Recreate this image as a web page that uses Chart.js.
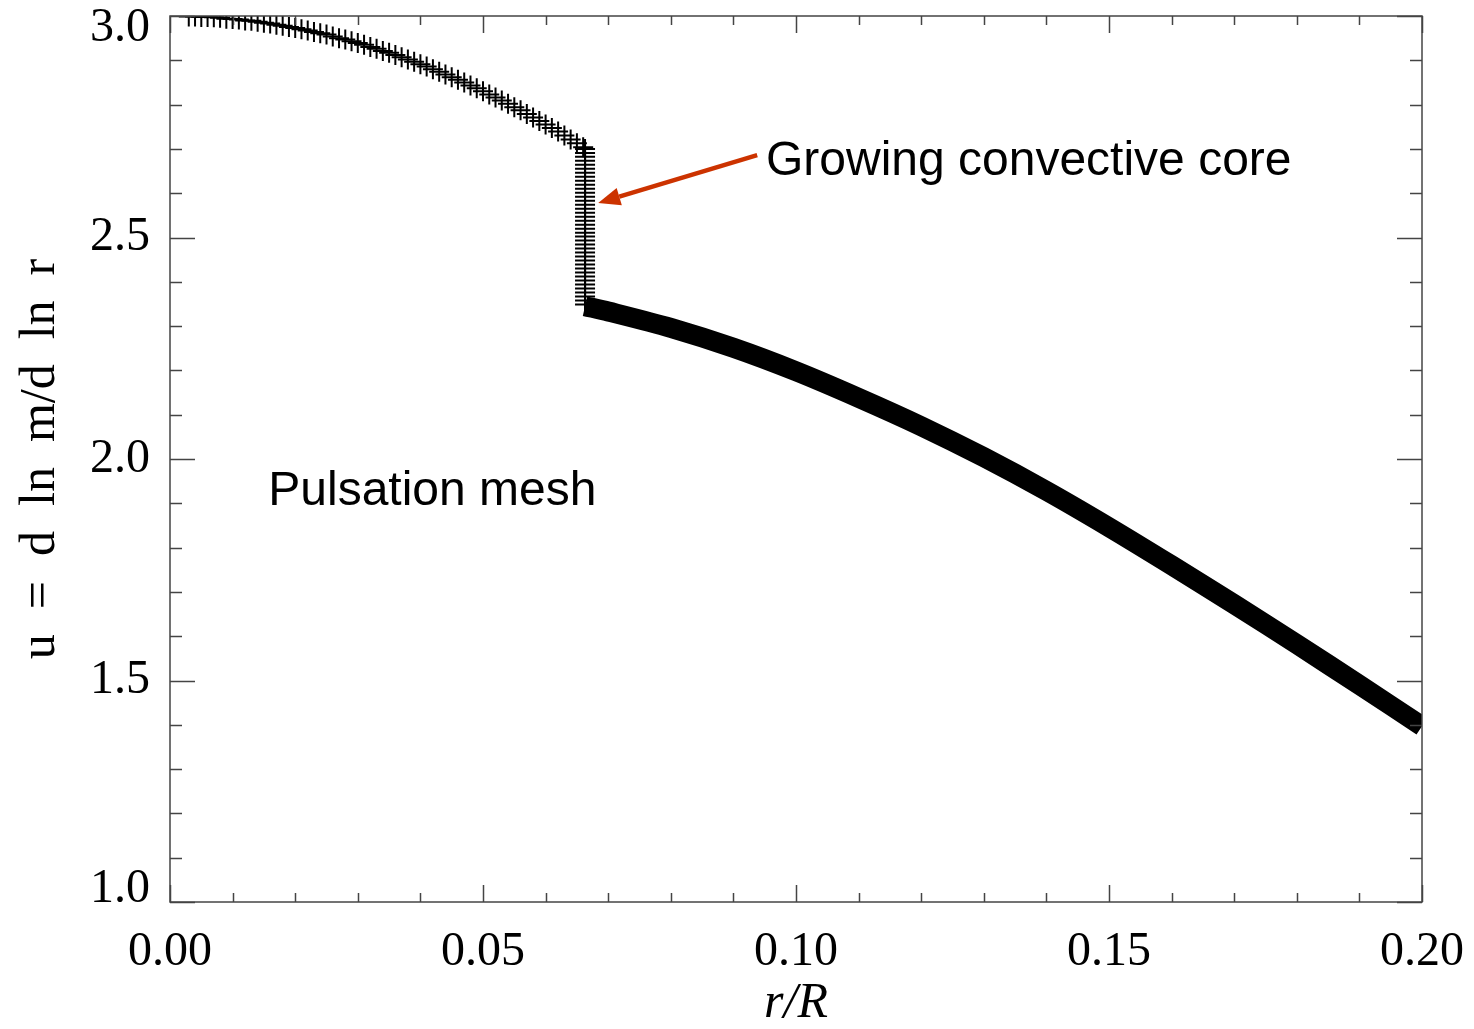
<!DOCTYPE html>
<html lang="en">
<head>
<meta charset="UTF-8" />
<title>Pulsation mesh</title>
<script src="https://cdn.jsdelivr.net/npm/chart.js"></script>
<style>
  * { margin: 0; padding: 0; box-sizing: border-box; }
  body { background: #fff; }
  #wrap { width: 1474px; height: 1029px; position: relative; }
</style>
</head>
<body>
<div id="wrap"><canvas id="meshChart"></canvas></div>
<script>
// mesh points inside the convective core (sparse)
const rCore = [0.003, 0.004, 0.005, 0.006, 0.007, 0.008, 0.009, 0.010, 0.011, 0.012,
  0.013, 0.014, 0.015, 0.016, 0.017, 0.018, 0.019, 0.020, 0.021, 0.022,
  0.023, 0.024, 0.025, 0.026, 0.027, 0.028, 0.029, 0.030, 0.031, 0.032,
  0.033, 0.034, 0.035, 0.036, 0.037, 0.038, 0.039, 0.040, 0.041, 0.042,
  0.043, 0.044, 0.045, 0.046, 0.047, 0.048, 0.049, 0.050, 0.051, 0.052,
  0.053, 0.054, 0.055, 0.056, 0.057, 0.058, 0.059, 0.060, 0.061, 0.062,
  0.063, 0.064, 0.065, 0.066];
const uCore = [2.999, 2.999, 2.998, 2.998, 2.997, 2.996, 2.994, 2.993, 2.992, 2.990,
  2.989, 2.987, 2.985, 2.983, 2.980, 2.978, 2.975, 2.973, 2.970, 2.967,
  2.964, 2.961, 2.958, 2.954, 2.950, 2.947, 2.943, 2.939, 2.935, 2.930,
  2.926, 2.921, 2.917, 2.912, 2.907, 2.902, 2.897, 2.891, 2.886, 2.880,
  2.874, 2.868, 2.862, 2.856, 2.850, 2.843, 2.837, 2.830, 2.823, 2.816,
  2.809, 2.802, 2.794, 2.787, 2.779, 2.771, 2.763, 2.755, 2.747, 2.739,
  2.730, 2.721, 2.713, 2.704];

// mesh points piled up at the core boundary
const rEdge = 0.0663;
const uEdge = [2.700, 2.691, 2.682, 2.673, 2.664, 2.655, 2.646, 2.637, 2.628, 2.619,
  2.610, 2.601, 2.592, 2.583, 2.574, 2.565, 2.556, 2.547, 2.538, 2.529,
  2.520, 2.511, 2.502, 2.493, 2.484, 2.475, 2.466, 2.457, 2.448, 2.439,
  2.430, 2.421, 2.412, 2.403, 2.394, 2.385, 2.376, 2.367, 2.358, 2.349];

// dense mesh outside the core
const rEnv = [0.0663, 0.070, 0.080, 0.090, 0.100, 0.110, 0.120, 0.130, 0.140, 0.150,
  0.160, 0.170, 0.180, 0.190, 0.200];
const uEnv = [2.345, 2.333, 2.296, 2.251, 2.198, 2.138, 2.074, 2.004, 1.928, 1.846,
  1.760, 1.672, 1.582, 1.490, 1.397];

const xTicks = [0.00, 0.05, 0.10, 0.15, 0.20];
const yTicks = [1.0, 1.5, 2.0, 2.5, 3.0];

const serif = '"Liberation Serif", "DejaVu Serif", serif';
const sans = '"Liberation Sans", Arial, sans-serif';

// box frame with inward ticks on all four sides
const framePlugin = {
    id: 'frame',
    afterLayout(chart) {
        // end labels of the y axis sit inside the frame, as in the original plot
        const items = chart.scales.y.getLabelItems();
        items[0].options.translation[1] -= 13;
        items[items.length - 1].options.translation[1] += 12;
    },
    afterDatasetsDraw(chart) {
        const { ctx, chartArea: a, scales: { x, y } } = chart;
        ctx.save();
        ctx.strokeStyle = '#444';
        ctx.lineWidth = 1.5;
        ctx.strokeRect(a.left, a.top, a.right - a.left, a.bottom - a.top);
        ctx.beginPath();
        for (let i = 0; i <= 20; i++) {
            const px = Math.round(x.getPixelForValue(i * 0.01)) + 0.5;
            const len = i % 5 === 0 ? 17 : 9;
            ctx.moveTo(px, a.bottom); ctx.lineTo(px, a.bottom - len);
            ctx.moveTo(px, a.top); ctx.lineTo(px, a.top + len);
        }
        for (let i = 0; i <= 20; i++) {
            const py = Math.round(y.getPixelForValue(1 + i * 0.1)) + 0.5;
            const len = i % 5 === 0 ? 25 : 12;
            ctx.moveTo(a.left, py); ctx.lineTo(a.left + len, py);
            ctx.moveTo(a.right, py); ctx.lineTo(a.right - len, py);
        }
        ctx.stroke();
        ctx.restore();
    }
};

// labels and the red arrow
const notePlugin = {
    id: 'notes',
    afterDraw(chart) {
        const { ctx, scales: { x, y } } = chart;
        ctx.save();
        ctx.fillStyle = '#000';
        ctx.font = '48px ' + sans;
        ctx.textBaseline = 'alphabetic';
        ctx.fillText('Pulsation mesh', x.getPixelForValue(0.0157), y.getPixelForValue(1.896));
        ctx.fillText('Growing convective core', x.getPixelForValue(0.0952), y.getPixelForValue(2.641));

        const x0 = x.getPixelForValue(0.0938), y0 = y.getPixelForValue(2.686);
        const x1 = x.getPixelForValue(0.0684), y1 = y.getPixelForValue(2.578);
        const ang = Math.atan2(y1 - y0, x1 - x0);
        const head = 22, half = 9;
        const bx = x1 - head * Math.cos(ang), by = y1 - head * Math.sin(ang);
        ctx.strokeStyle = '#cc3300';
        ctx.fillStyle = '#cc3300';
        ctx.lineWidth = 4.5;
        ctx.beginPath();
        ctx.moveTo(x0, y0);
        ctx.lineTo(bx, by);
        ctx.stroke();
        ctx.beginPath();
        ctx.moveTo(x1, y1);
        ctx.lineTo(bx + half * Math.sin(ang), by - half * Math.cos(ang));
        ctx.lineTo(bx - half * Math.sin(ang), by + half * Math.cos(ang));
        ctx.closePath();
        ctx.fill();
        ctx.restore();
    }
};

const coreData = rCore.map((r, i) => ({ x: r, y: uCore[i] }));
const edgeData = uEdge.map(u => ({ x: rEdge, y: u }));
const envData = rEnv.map((r, i) => ({ x: r, y: uEnv[i] }));

const ctx = document.getElementById('meshChart').getContext('2d');
new Chart(ctx, {
    type: 'scatter',
    data: {
        datasets: [
            {
                data: coreData,
                pointStyle: 'cross',
                pointRadius: 10,
                borderColor: '#000',
                borderWidth: 2,
                showLine: false
            },
            {
                data: edgeData,
                pointStyle: 'cross',
                pointRadius: 10,
                borderColor: '#000',
                borderWidth: 2,
                showLine: false
            },
            {
                data: envData,
                showLine: true,
                pointRadius: 0,
                borderColor: '#000',
                borderWidth: 20,
                borderCapStyle: 'butt',
                tension: 0.3
            }
        ]
    },
    options: {
        responsive: true,
        maintainAspectRatio: false,
        animation: false,
        layout: { padding: { top: 16, right: 52, left: 0, bottom: 0 } },
        plugins: {
            legend: { display: false },
            tooltip: { enabled: false }
        },
        scales: {
            x: {
                type: 'linear',
                min: 0,
                max: 0.2,
                afterFit: (s) => { s.height = 127; s.paddingLeft = 0; s.paddingRight = 0; },
                afterBuildTicks: (s) => { s.ticks = xTicks.map(v => ({ value: v })); },
                grid: { display: false },
                border: { display: false },
                ticks: {
                    padding: 14,
                    color: '#000',
                    font: { family: serif, size: 48 },
                    callback: (v) => v.toFixed(2)
                },
                title: {
                    display: true,
                    text: 'r/R',
                    color: '#000',
                    font: { family: serif, size: 50, style: 'italic', lineHeight: 1 },
                    padding: { top: 0, bottom: 0 }
                }
            },
            y: {
                type: 'linear',
                min: 1,
                max: 3,
                afterFit: (s) => { s.width = 170; s.paddingTop = 0; s.paddingBottom = 0; },
                afterBuildTicks: (s) => { s.ticks = yTicks.map(v => ({ value: v })); },
                grid: { display: false },
                border: { display: false },
                ticks: {
                    padding: 12,
                    color: '#000',
                    font: { family: serif, size: 48 },
                    callback: (v) => v.toFixed(1)
                },
                title: {
                    display: true,
                    text: 'u  =  d  ln  m/d  ln  r',
                    color: '#000',
                    font: { family: serif, size: 50, lineHeight: 1 },
                    padding: { top: 16, bottom: 0 }
                }
            }
        }
    },
    plugins: [framePlugin, notePlugin]
});
</script>
</body>
</html>
